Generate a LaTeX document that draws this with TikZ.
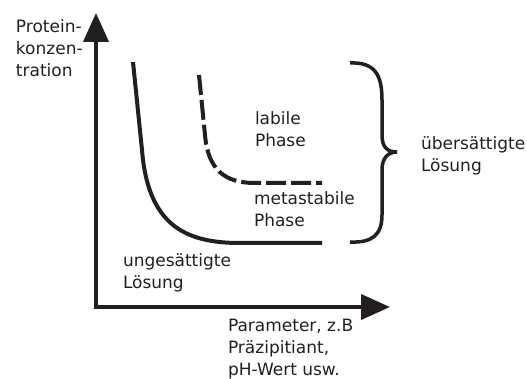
\documentclass[tikz,border=0pt]{standalone}
\usepackage{fontspec}
\setmainfont{DejaVu Sans}
\usetikzlibrary{arrows.meta}
\definecolor{cink}{HTML}{231F20}
\tikzset{
  every picture/.style={line width=4pt, draw=cink},
  axis/.style={{Triangle[length=29pt, width=25pt]}-{Triangle[length=29pt, width=25pt]}, draw=cink, line join=miter},
  curve/.style={draw=cink, line width=4pt},
  dashcurve/.style={curve, dash pattern=on 20pt off 5pt},
  brace/.style={draw=cink, line width=3.5pt},
  lbl/.style={font=\fontsize{17}{22}\selectfont, text=cink, align=left, inner sep=0pt, anchor=base west},
}

\begin{document}
\begin{tikzpicture}[x=1pt, y=-1pt]
  \useasboundingbox (0,0) rectangle (527,379);

  % axes
  \coordinate (ytip) at (96,13);
  \coordinate (xtip) at (390,307);
  \draw[axis] (ytip) |- (xtip);

  % solubility curve (solid)
  \draw[curve] (133,62) -- (142,150) .. controls (148,225) and (185,243) .. (240,243) -- (322,243);

  % boundary of the labile zone (dashed)
  \draw[dashcurve] (199,75) -- (205,135) .. controls (208,170) and (225,183) .. (255,183) -- (322,183);

  % brace
  \draw[brace] (350,63) .. controls (375,62) and (382,75) .. (382,100) -- (382,135)
    .. controls (382,148) and (388,152) .. (397,152)
    .. controls (388,152) and (382,158) .. (382,170) -- (382,215)
    .. controls (382,235) and (372,243) .. (350,242);

  % labels (anchored at the baseline of their last line)
  \node[lbl] (ylabel) at (14,77) {Protein-\\konzen-\\tration};
  \node[lbl] (labile) at (253,147) {labile\\Phase};
  \node[lbl] (meta) at (252,227) {metastabile\\Phase};
  \node[lbl] (unsat) at (121,288) {ungesättigte\\Lösung};
  \node[lbl] (super) at (419,172) {übersättigte\\Lösung};
  \node[lbl] (xlabel) at (226,375) {Parameter, z.B\\Präzipitiant,\\pH-Wert usw.};
\end{tikzpicture}
\end{document}
